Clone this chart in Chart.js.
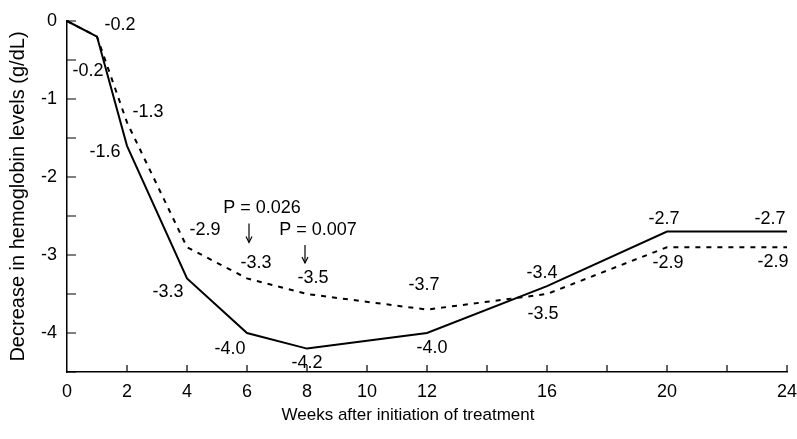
<!DOCTYPE html>
<html>
<head>
<meta charset="utf-8">
<script src="https://cdn.jsdelivr.net/npm/chart.js@4.4.1/dist/chart.umd.min.js"></script>
<style>
  html, body { margin: 0; padding: 0; background: #fff; }
  canvas { display: block; }
</style>
</head>
<body>
<canvas id="hbChart" width="797" height="439"></canvas>
<script>
// values
var weeks = [0, 1, 2, 4, 6, 8, 12, 16, 20, 24];
var solidValues = [0, -0.2, -1.6, -3.3, -4.0, -4.2, -4.0, -3.4, -2.7, -2.7];
var dashedValues = [0, -0.2, -1.3, -2.9, -3.3, -3.5, -3.7, -3.5, -2.9, -2.9];
var xTickLabels = [0, 2, 4, 6, 8, 10, 12, 16, 20, 24];
var yTickLabels = [0, -1, -2, -3, -4];
var pWeeks = [6, 8];
var pTexts = ['P = 0.026', 'P = 0.007'];
var xTitle = 'Weeks after initiation of treatment';

// where each value label sits relative to its point (px)
var labelOffsets = [
    [null, [23, -12], [-22, 6], [-19, 14], [-17, 16], [0, 14], [5, 15], [-5, -13], [-3, -13], [-17, -13]],
    [null, [-9, 34], [21, -10], [18, -17], [9, -15], [6, -16], [-3, -25], [-4, 20], [1, 16], [-14, 15]]
];
// P annotation: text dx, text dy, arrow dx, arrow top dy, arrow tip dy (relative to dashed point)
var pOffsets = [[15, -70, 2, -55, -36], [11, -64, -2, -49, -31]];

var fontFamily = '"Liberation Sans", Arial, Helvetica, sans-serif';

var decorPlugin = {
    id: 'decor',
    afterDatasetsDraw: function (chart) {
        var ctx = chart.ctx;
        var xs = chart.scales.x, ys = chart.scales.y;
        ctx.save();

        // inward tick marks
        ctx.strokeStyle = '#000';
        ctx.lineWidth = 1.2;
        ctx.beginPath();
        ys.ticks.forEach(function (t) {
            var py = ys.getPixelForValue(t.value);
            ctx.moveTo(xs.left, py);
            ctx.lineTo(xs.left + 9, py);
        });
        xs.ticks.forEach(function (t) {
            if (t.value === 0) return;
            var px = xs.getPixelForValue(t.value);
            ctx.moveTo(px, ys.bottom);
            ctx.lineTo(px, ys.bottom - 7);
        });
        ctx.stroke();

        // value labels
        ctx.fillStyle = '#000';
        ctx.font = '18px ' + fontFamily;
        ctx.textAlign = 'center';
        ctx.textBaseline = 'middle';
        chart.data.datasets.forEach(function (ds, di) {
            var meta = chart.getDatasetMeta(di);
            meta.data.forEach(function (pt, i) {
                var off = labelOffsets[di][i];
                if (!off) return;
                ctx.fillText(ds.data[i].y.toFixed(1), pt.x + off[0], pt.y + off[1]);
            });
        });

        // P value annotations with arrows
        pWeeks.forEach(function (w, k) {
            var o = pOffsets[k];
            var px = xs.getPixelForValue(w);
            var py = ys.getPixelForValue(dashedValues[weeks.indexOf(w)]);
            ctx.fillText(pTexts[k], px + o[0], py + o[1]);
            var ax = px + o[2];
            ctx.beginPath();
            ctx.moveTo(ax, py + o[3]);
            ctx.lineTo(ax, py + o[4]);
            ctx.stroke();
            ctx.beginPath();
            ctx.moveTo(ax - 3, py + o[4] - 6);
            ctx.lineTo(ax, py + o[4]);
            ctx.lineTo(ax + 3, py + o[4] - 6);
            ctx.stroke();
        });

        // x axis title (sits a little left of the axis centre in the original)
        ctx.font = '17px ' + fontFamily;
        ctx.fillText(xTitle, xs.left + 341, 415);
        ctx.restore();
    }
};

var ctx = document.getElementById('hbChart').getContext('2d');

var myChart = new Chart(ctx, {
    type: 'line',
    data: {
        datasets: [{
            label: 'Group 1',
            data: weeks.map(function (w, i) { return { x: w, y: solidValues[i] }; }),
            borderColor: '#000',
            borderWidth: 2,
            pointRadius: 0,
            tension: 0,
            clip: false
        }, {
            label: 'Group 2',
            data: weeks.map(function (w, i) { return { x: w, y: dashedValues[i] }; }),
            borderColor: '#000',
            borderWidth: 2,
            borderDash: [5, 6],
            pointRadius: 0,
            tension: 0,
            clip: false
        }]
    },
    options: {
        responsive: false,
        animation: false,
        devicePixelRatio: 1,
        layout: { padding: { top: 21, right: 10, left: 0, bottom: 0 } },
        plugins: {
            legend: { display: false },
            tooltip: { enabled: false }
        },
        scales: {
            x: {
                type: 'linear',
                min: 0,
                max: 24,
                grid: { display: false, drawTicks: false },
                border: { display: true, color: '#000', width: 1.5 },
                ticks: {
                    stepSize: 2,
                    autoSkip: false,
                    maxRotation: 0,
                    padding: 9,
                    color: '#000',
                    font: { family: fontFamily, size: 18 },
                    callback: function (v) { return xTickLabels.indexOf(v) >= 0 ? String(v) : ''; }
                },
                afterFit: function (s) {
                    s.height = 67;
                    s.paddingLeft = 0;
                    s.paddingRight = 0;
                }
            },
            y: {
                min: -4.5,
                max: 0,
                grid: { display: false, drawTicks: false },
                border: { display: true, color: '#000', width: 1.5 },
                ticks: {
                    stepSize: 0.5,
                    autoSkip: false,
                    padding: 10,
                    color: '#000',
                    font: { family: fontFamily, size: 18 },
                    callback: function (v) { return yTickLabels.indexOf(v) >= 0 ? String(v) : ''; }
                },
                title: {
                    display: true,
                    text: 'Decrease in hemoglobin levels (g/dL)',
                    color: '#000',
                    font: { family: fontFamily, size: 20 },
                    padding: { top: 6, bottom: 0 }
                },
                afterFit: function (s) { s.width = 67; }
            }
        }
    },
    plugins: [decorPlugin]
});
</script>
</body>
</html>
